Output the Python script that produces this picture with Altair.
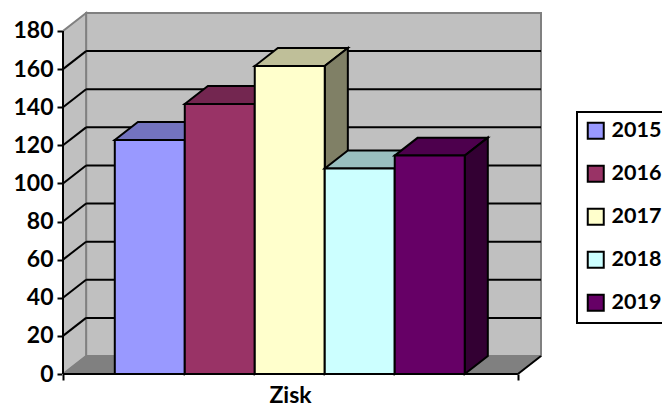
import altair as alt
import pandas as pd

years = ["2015", "2016", "2017", "2018", "2019"]
values = [122.8, 141.7, 161.6, 107.8, 114.6]
front = ["#9999FF", "#993366", "#FFFFCC", "#CCFFFF", "#660066"]
top = ["#7373BF", "#732650", "#BFBF99", "#99BFBF", "#4D004D"]
side = ["#4D4D80", "#4D1A33", "#808066", "#668080", "#330033"]
ticks = [0, 20, 40, 60, 80, 100, 120, 140, 160, 180]

GAP = 0.74
N_X = 6.5
DX = 0.33
Y_MAX = 180
DY = 9.44

xs = alt.Scale(domain=[0, N_X + DX], range=[0, 478], nice=False, zero=False)
ys = alt.Scale(domain=[0, Y_MAX + DY], range=[361, 0], nice=False, zero=False)
FONT = "Lato"

x_axis = alt.Axis(values=[0, N_X], labels=False, domain=False, grid=False,
                  tickColor="black", tickWidth=2, tickSize=6, title="Zisk",
                  titleFont=FONT, titleFontSize=23, titleFontWeight="bold",
                  titleColor="black", titleX=227, titleY=28, titleBaseline="alphabetic",
                  titleAlign="center")
y_axis = alt.Axis(values=ticks, domain=False, grid=False, tickColor="black",
                  tickWidth=2, tickSize=6, labelFont=FONT, labelFontSize=23,
                  labelFontWeight="bold", labelColor="black", labelPadding=4,
                  title=None)


def X(f="x"):
    return alt.X(f"{f}:Q", scale=xs, axis=x_axis)


def Y(f="y"):
    return alt.Y(f"{f}:Q", scale=ys, axis=y_axis)


X2 = alt.X2("x2:Q")
Y2 = alt.Y2("y2:Q")
layers = []

# back wall, left wall, floor
layers.append(
    alt.Chart(pd.DataFrame([{"x": DX, "x2": N_X + DX, "y": DY, "y2": Y_MAX + DY}]))
    .mark_rect(fill="#C0C0C0", stroke="#808080", strokeWidth=2)
    .encode(x=X(), x2=X2, y=Y(), y2=Y2)
)
layers.append(
    alt.Chart(pd.DataFrame([{"x": 0, "y": 0, "y2": Y_MAX}, {"x": DX, "y": DY, "y2": Y_MAX + DY}]))
    .mark_area(fill="#C0C0C0", stroke="#808080", strokeWidth=2)
    .encode(x=X(), y=Y(), y2=Y2)
)
layers.append(
    alt.Chart(pd.DataFrame([{"y": 0, "x": 0, "x2": N_X}, {"y": DY, "x": DX, "x2": N_X + DX}]))
    .mark_area(fill="#808080", stroke="#808080", strokeWidth=1, orient="horizontal")
    .encode(y=Y(), x=X(), x2=X2)
)

# gridlines on both walls
grid_vals = [t for t in ticks if 0 < t < Y_MAX]
layers.append(
    alt.Chart(pd.DataFrame([{"x": DX, "x2": N_X + DX, "y": t + DY, "y2": t + DY} for t in grid_vals]))
    .mark_rule(color="black", strokeWidth=2)
    .encode(x=X(), x2=X2, y=Y(), y2=Y2)
)
layers.append(
    alt.Chart(pd.DataFrame([{"x": 0, "x2": DX, "y": t, "y2": t + DY} for t in grid_vals]))
    .mark_rule(color="black", strokeWidth=2)
    .encode(x=X(), x2=X2, y=Y(), y2=Y2)
)

# axis lines
layers.append(
    alt.Chart(pd.DataFrame([{"x": 0, "x2": 0, "y": 0, "y2": Y_MAX}]))
    .mark_rule(color="black", strokeWidth=2)
    .encode(x=X(), x2=X2, y=Y(), y2=Y2)
)
layers.append(
    alt.Chart(pd.DataFrame([{"x": N_X, "x2": N_X + DX, "y": 0, "y2": DY}, {"x": 0, "x2": N_X, "y": 0, "y2": 0}]))
    .mark_rule(color="black", strokeWidth=2)
    .encode(x=X(), x2=X2, y=Y(), y2=Y2)
)

legend = alt.Legend(
    title=None, orient="none", legendX=514, legendY=99, symbolType="square",
    symbolSize=256, symbolStrokeWidth=2, symbolStrokeColor="black", symbolOpacity=1,
    labelFont=FONT, labelFontSize=21.5, labelFontWeight="bold", labelColor="black",
    rowPadding=18, strokeColor="black", fillColor="white", padding=8, labelOffset=5,
)

# bars, painted left to right
for i, (yr, v) in enumerate(zip(years, values)):
    x0 = GAP + i
    x1 = x0 + 1
    layers.append(
        alt.Chart(pd.DataFrame([{"y": v, "x": x0, "x2": x1}, {"y": v + DY, "x": x0 + DX, "x2": x1 + DX}]))
        .mark_area(fill=top[i], stroke="black", strokeWidth=2, orient="horizontal")
        .encode(y=Y(), x=X(), x2=X2)
    )
    layers.append(
        alt.Chart(pd.DataFrame([{"x": x1, "y": 0, "y2": v}, {"x": x1 + DX, "y": DY, "y2": v + DY}]))
        .mark_area(fill=side[i], stroke="black", strokeWidth=2)
        .encode(x=X(), y=Y(), y2=Y2)
    )
    layers.append(
        alt.Chart(pd.DataFrame([{"x": x0, "x2": x1, "y": 0, "y2": v, "year": yr}]))
        .mark_rect(stroke="black", strokeWidth=2, opacity=1)
        .encode(
            x=X(), x2=X2, y=Y(), y2=Y2,
            color=alt.Color("year:N", scale=alt.Scale(domain=years, range=front), legend=legend),
        )
    )

chart = (
    alt.layer(*layers)
    .properties(width=478, height=361, autosize="none",
                padding={"left": 55, "top": 5, "right": 121, "bottom": 34},
                background="white")
    .configure_view(stroke=None)
    .configure_legend(strokeWidth=2)
)
chart.save("out.html", embed_options={"renderer": "svg", "actions": False})
